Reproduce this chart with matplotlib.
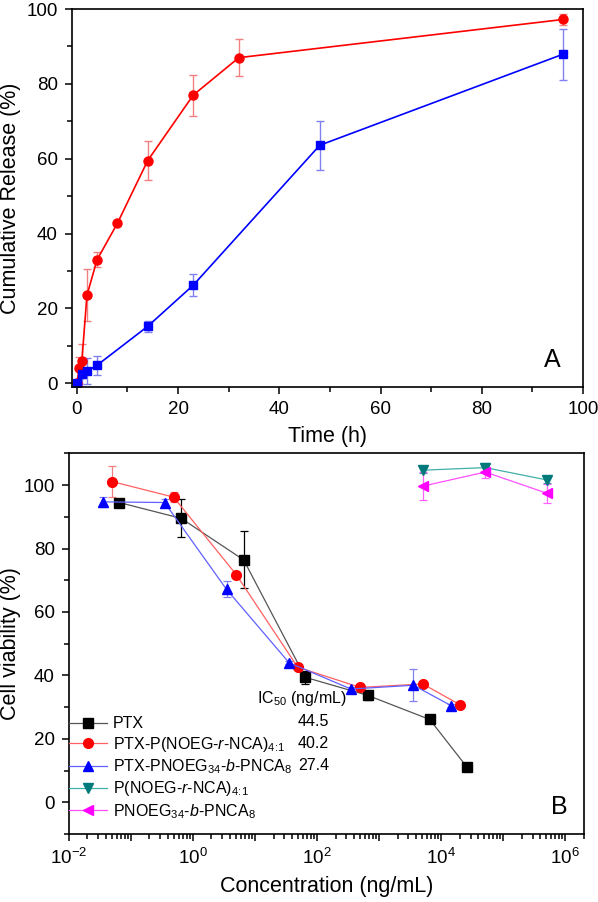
import numpy as np
import matplotlib
matplotlib.use('Agg')
import matplotlib.pyplot as plt
from matplotlib.lines import Line2D
from matplotlib.ticker import MultipleLocator, LogLocator, FuncFormatter, NullFormatter

plt.rcParams['font.family'] = ['Liberation Sans', 'DejaVu Sans']
plt.rcParams['mathtext.fontset'] = 'custom'
plt.rcParams['mathtext.rm'] = 'Liberation Sans'
plt.rcParams['mathtext.it'] = 'Liberation Sans:italic'
plt.rcParams['mathtext.bf'] = 'Liberation Sans:bold'

# Painel A: liberação cumulativa
t_red = [0, 0.5, 1, 2, 4, 8, 14, 23, 32, 96]
rel_red = [0, 4.0, 6.0, 23.5, 33.0, 42.7, 59.5, 77.0, 87.0, 97.2]
err_red = [0.5, 3.0, 4.5, 7.0, 2.0, 0.5, 5.3, 5.5, 5.0, 1.5]

t_blue = [0, 1, 2, 4, 14, 23, 48, 96]
rel_blue = [0, 2.5, 3.2, 4.8, 15.2, 26.2, 63.6, 87.9]
err_blue = [0.5, 4.0, 3.5, 2.6, 1.5, 3.0, 6.5, 6.8]

# Painel B: viabilidade celular
c_ptx = [0.065, 0.65, 6.6, 65, 660, 6600, 26000]
v_ptx = [94.5, 89.5, 76.4, 39.4, 33.7, 26.1, 11.2]
e_ptx = [1.0, 6.0, 9.0, 2.0, 1.5, 0.5, 0.5]

c_red = [0.05, 0.49, 5.0, 49, 500, 5100, 20500]
v_red = [101.1, 96.2, 71.8, 42.6, 36.2, 37.3, 30.7]
e_red = [5.0, 1.5, 0.5, 0.5, 0.5, 0.5, 0.5]

c_blue = [0.035, 0.35, 3.5, 35.6, 354, 3600, 14500]
v_blue = [94.7, 94.5, 67.1, 44.0, 35.7, 36.9, 30.5]
e_blue = [1.5, 1.0, 2.5, 0.5, 0.5, 5.0, 0.5]

c_teal = [5200, 52000, 515000]
v_teal = [104.7, 105.5, 101.6]
e_teal = [1.0, 1.5, 1.0]

c_mag = [5200, 52000, 515000]
v_mag = [99.7, 104.1, 97.4]
e_mag = [4.5, 2.0, 3.0]

labels = ['PTX',
          r'PTX-P(NOEG-$\it{r}$-NCA)$_{4\!:\!1}$',
          r'PTX-PNOEG$_{34}$-$\it{b}$-PNCA$_8$',
          r'P(NOEG-$\it{r}$-NCA)$_{4\!:\!1}$',
          r'PNOEG$_{34}$-$\it{b}$-PNCA$_8$']
ic50 = ['44.5', '40.2', '27.4']

fig = plt.figure(figsize=(5.98, 9.02), dpi=100)
ax1 = fig.add_axes([0.120, 0.571, 0.855, 0.419])
ax2 = fig.add_axes([0.115, 0.0754, 0.861, 0.422])

for ax in (ax1, ax2):
    for s in ax.spines.values():
        s.set_linewidth(1.2)
    ax.tick_params(which='both', direction='out', top=False, right=False,
                   labelsize=13.5, width=1.1, pad=5)
    ax.tick_params(which='major', length=5)
    ax.tick_params(which='minor', length=3.5)

# --- Painel A ---
ax1.errorbar(t_red, rel_red, yerr=err_red, color='#ff0000', marker='o', ms=6.5,
             lw=1.2, ecolor='#f08080', elinewidth=1, capsize=3, capthick=1)
ax1.errorbar(t_blue, rel_blue, yerr=err_blue, color='#0000ff', marker='s', ms=6,
             lw=1.2, ecolor='#8080f0', elinewidth=1, capsize=3, capthick=1)
ax1.set_xlim(-1, 100)
ax1.set_ylim(-1, 100)
ax1.xaxis.set_major_locator(MultipleLocator(20))
ax1.xaxis.set_minor_locator(MultipleLocator(10))
ax1.yaxis.set_major_locator(MultipleLocator(20))
ax1.yaxis.set_minor_locator(MultipleLocator(10))
ax1.set_xlabel('Time (h)', fontsize=15.5, labelpad=6)
ax1.set_ylabel('Cumulative Release (%)', fontsize=15.5)
ax1.yaxis.set_label_coords(-0.099, 0.5)
ax1.text(0.94, 0.04, 'A', transform=ax1.transAxes, fontsize=18, ha='center', va='bottom')

# --- Painel B ---
series = [
    (c_ptx, v_ptx, e_ptx, 's', '#000000', '#555555', '#000000'),
    (c_red, v_red, e_red, 'o', '#ff0000', '#ff6060', '#f08080'),
    (c_blue, v_blue, e_blue, '^', '#0000ff', '#6060ff', '#8080f0'),
    (c_teal, v_teal, e_teal, 'v', '#007a7a', '#40b0a8', '#40a0a0'),
    (c_mag, v_mag, e_mag, '<', '#ff00ff', '#ff50ff', '#ff60ff'),
]
handles = []
for c, v, e, m, mc, lc, ec in series:
    ax2.errorbar(c, v, yerr=e, marker=m, ms=7, mfc=mc, mec=mc, color=lc, lw=0.9,
                 ecolor=ec, elinewidth=0.9, capsize=3, capthick=0.9)
    handles.append(Line2D([], [], marker=m, ms=7, mfc=mc, mec=mc, color=lc, lw=0.9))

ax2.set_xscale('log')
ax2.set_xlim(1e-2, 2e6)
ax2.set_ylim(-10, 110)
ax2.yaxis.set_major_locator(MultipleLocator(20))
ax2.yaxis.set_minor_locator(MultipleLocator(10))
ax2.xaxis.set_major_locator(LogLocator(base=10, numticks=20))
ax2.xaxis.set_minor_locator(LogLocator(base=10, subs=np.arange(2, 10), numticks=20))
ax2.xaxis.set_minor_formatter(NullFormatter())


def fmt(x, pos):
    e = int(round(np.log10(x)))
    return r'$10^{%d}$' % e if e % 2 == 0 else ''


ax2.xaxis.set_major_formatter(FuncFormatter(fmt))
ax2.set_xlabel('Concentration (ng/mL)', fontsize=15.5, labelpad=6)
ax2.set_ylabel('Cell viability (%)', fontsize=15.5)
ax2.yaxis.set_label_coords(-0.092, 0.5)

ax2.legend(handles, labels, loc='lower left', bbox_to_anchor=(0, 0.035), frameon=False,
           fontsize=11.5, borderpad=0, borderaxespad=0, handlelength=2.4,
           handletextpad=0.35, labelspacing=0.22)

ax2.text(0.365, 0.355, r'IC$_{50}$ (ng/mL)', transform=ax2.transAxes, fontsize=11.5,
         ha='left', va='center')
for i, val in enumerate(ic50):
    ax2.text(0.475, 0.296 - i * 0.058, val, transform=ax2.transAxes, fontsize=11.5,
             ha='center', va='center')
ax2.text(0.952, 0.04, 'B', transform=ax2.transAxes, fontsize=18, ha='center', va='bottom')

fig.savefig('out.png', dpi=100)
